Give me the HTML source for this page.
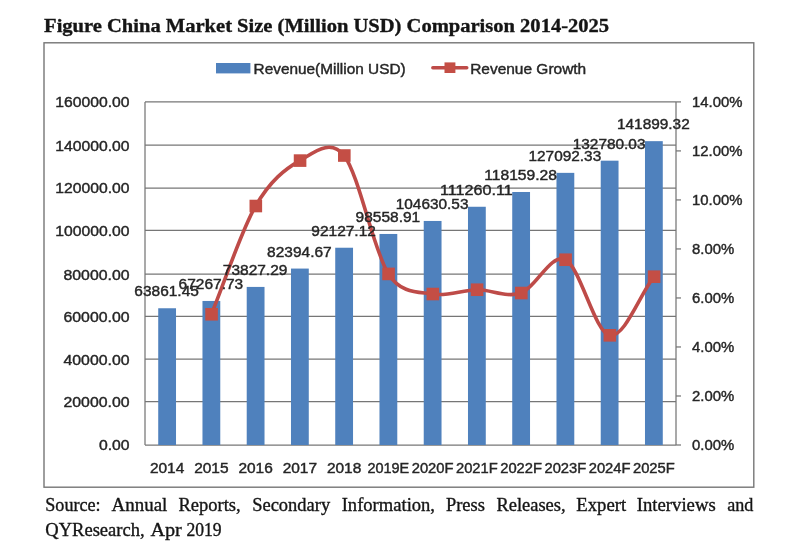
<!DOCTYPE html>
<html lang="en"><head><meta charset="utf-8"><title>Figure China Market Size (Million USD) Comparison 2014-2025</title>
<style>html,body{margin:0;padding:0;background:#fff}svg{display:block}.s{font-family:"Liberation Sans","DejaVu Sans",sans-serif;fill:#262626;stroke:#262626;stroke-width:.4px}.t{font-family:"Liberation Serif",serif;fill:#151515;stroke:#151515;stroke-width:.35px}</style></head><body>
<svg width="794" height="559" viewBox="0 0 794 559">
<rect width="794" height="559" fill="#fff"/>
<g>
<text class="t" x="44.1" y="31.8" font-size="19.4" font-weight="bold" textLength="565" lengthAdjust="spacingAndGlyphs">Figure China Market Size (Million USD) Comparison 2014-2025</text>
<rect x="44" y="42.8" width="709.8" height="444.4" fill="#fff" stroke="#767676" stroke-width="1.4"/>
<line x1="145.0" y1="445.00" x2="676.0" y2="445.00" stroke="#767676" stroke-width="1.25"/>
<line x1="145.0" y1="401.60" x2="676.0" y2="401.60" stroke="#767676" stroke-width="1.25"/>
<line x1="145.0" y1="359.10" x2="676.0" y2="359.10" stroke="#767676" stroke-width="1.25"/>
<line x1="145.0" y1="316.30" x2="676.0" y2="316.30" stroke="#767676" stroke-width="1.25"/>
<line x1="145.0" y1="274.20" x2="676.0" y2="274.20" stroke="#767676" stroke-width="1.25"/>
<line x1="145.0" y1="230.30" x2="676.0" y2="230.30" stroke="#767676" stroke-width="1.25"/>
<line x1="145.0" y1="188.00" x2="676.0" y2="188.00" stroke="#767676" stroke-width="1.25"/>
<line x1="145.0" y1="145.20" x2="676.0" y2="145.20" stroke="#767676" stroke-width="1.25"/>
<line x1="145.0" y1="101.90" x2="676.0" y2="101.90" stroke="#767676" stroke-width="1.25"/>
<rect x="158.22" y="308.26" width="17.80" height="136.74" fill="#4f81bd"/>
<rect x="202.47" y="300.96" width="17.80" height="144.04" fill="#4f81bd"/>
<rect x="246.72" y="286.92" width="17.80" height="158.08" fill="#4f81bd"/>
<rect x="290.98" y="268.57" width="17.80" height="176.43" fill="#4f81bd"/>
<rect x="335.23" y="247.73" width="17.80" height="197.27" fill="#4f81bd"/>
<rect x="379.48" y="233.96" width="17.80" height="211.04" fill="#4f81bd"/>
<rect x="423.73" y="220.96" width="17.80" height="224.04" fill="#4f81bd"/>
<rect x="467.98" y="206.76" width="17.80" height="238.24" fill="#4f81bd"/>
<rect x="512.23" y="191.99" width="17.80" height="253.01" fill="#4f81bd"/>
<rect x="556.48" y="172.86" width="17.80" height="272.14" fill="#4f81bd"/>
<rect x="600.73" y="160.68" width="17.80" height="284.32" fill="#4f81bd"/>
<rect x="644.98" y="141.16" width="17.80" height="303.84" fill="#4f81bd"/>
<line x1="145.0" y1="101.90" x2="145.0" y2="445.00" stroke="#767676" stroke-width="1.25"/>
<line x1="676.0" y1="101.90" x2="676.0" y2="445.00" stroke="#767676" stroke-width="1.25"/>
<line x1="676.0" y1="445.00" x2="681.0" y2="445.00" stroke="#767676" stroke-width="1.25"/>
<line x1="676.0" y1="395.99" x2="681.0" y2="395.99" stroke="#767676" stroke-width="1.25"/>
<line x1="676.0" y1="346.97" x2="681.0" y2="346.97" stroke="#767676" stroke-width="1.25"/>
<line x1="676.0" y1="297.96" x2="681.0" y2="297.96" stroke="#767676" stroke-width="1.25"/>
<line x1="676.0" y1="248.94" x2="681.0" y2="248.94" stroke="#767676" stroke-width="1.25"/>
<line x1="676.0" y1="199.93" x2="681.0" y2="199.93" stroke="#767676" stroke-width="1.25"/>
<line x1="676.0" y1="150.91" x2="681.0" y2="150.91" stroke="#767676" stroke-width="1.25"/>
<line x1="676.0" y1="101.90" x2="681.0" y2="101.90" stroke="#767676" stroke-width="1.25"/>
<path d="M211.38 314.28 C226.12 278.20 240.88 231.63 255.62 206.02 C270.38 180.41 285.12 169.02 299.88 160.60 C313.58 152.78 330.42 137.97 344.12 155.52 C358.88 174.41 373.62 250.82 388.38 273.91 C401.46 294.39 419.54 291.69 432.62 294.03 C447.38 296.66 462.12 289.88 476.88 289.72 C491.62 289.55 506.38 298.03 521.12 293.03 C535.88 288.03 550.62 252.67 565.38 259.72 C580.12 266.77 594.88 332.50 609.62 335.32 C624.38 338.15 639.12 296.23 653.88 276.69" fill="none" stroke="#be4b48" stroke-width="3.6" stroke-linecap="round" stroke-linejoin="round"/>
<rect x="205.27" y="307.98" width="12.6" height="12.6" fill="#c44e45"/>
<rect x="249.52" y="199.72" width="12.6" height="12.6" fill="#c44e45"/>
<rect x="293.77" y="154.30" width="12.6" height="12.6" fill="#c44e45"/>
<rect x="338.02" y="149.22" width="12.6" height="12.6" fill="#c44e45"/>
<rect x="382.27" y="267.61" width="12.6" height="12.6" fill="#c44e45"/>
<rect x="426.52" y="287.73" width="12.6" height="12.6" fill="#c44e45"/>
<rect x="470.77" y="283.42" width="12.6" height="12.6" fill="#c44e45"/>
<rect x="515.03" y="286.73" width="12.6" height="12.6" fill="#c44e45"/>
<rect x="559.28" y="253.42" width="12.6" height="12.6" fill="#c44e45"/>
<rect x="603.53" y="329.02" width="12.6" height="12.6" fill="#c44e45"/>
<rect x="647.78" y="270.39" width="12.6" height="12.6" fill="#c44e45"/>
<text class="s" x="166.62" y="296.26" font-size="13.8" text-anchor="middle" textLength="64.5" lengthAdjust="spacingAndGlyphs">63861.45</text>
<text class="s" x="210.88" y="288.96" font-size="13.8" text-anchor="middle" textLength="64.5" lengthAdjust="spacingAndGlyphs">67267.73</text>
<text class="s" x="255.12" y="274.92" font-size="13.8" text-anchor="middle" textLength="64.5" lengthAdjust="spacingAndGlyphs">73827.29</text>
<text class="s" x="299.38" y="256.57" font-size="13.8" text-anchor="middle" textLength="64.5" lengthAdjust="spacingAndGlyphs">82394.67</text>
<text class="s" x="343.62" y="235.73" font-size="13.8" text-anchor="middle" textLength="64.5" lengthAdjust="spacingAndGlyphs">92127.12</text>
<text class="s" x="387.88" y="221.96" font-size="13.8" text-anchor="middle" textLength="64.5" lengthAdjust="spacingAndGlyphs">98558.91</text>
<text class="s" x="432.12" y="208.96" font-size="13.8" text-anchor="middle" textLength="72.7" lengthAdjust="spacingAndGlyphs">104630.53</text>
<text class="s" x="476.38" y="194.76" font-size="13.8" text-anchor="middle" textLength="72.7" lengthAdjust="spacingAndGlyphs">111260.11</text>
<text class="s" x="520.62" y="179.99" font-size="13.8" text-anchor="middle" textLength="72.7" lengthAdjust="spacingAndGlyphs">118159.28</text>
<text class="s" x="564.88" y="160.86" font-size="13.8" text-anchor="middle" textLength="72.7" lengthAdjust="spacingAndGlyphs">127092.33</text>
<text class="s" x="609.12" y="148.68" font-size="13.8" text-anchor="middle" textLength="72.7" lengthAdjust="spacingAndGlyphs">132780.03</text>
<text class="s" x="653.38" y="129.16" font-size="13.8" text-anchor="middle" textLength="72.7" lengthAdjust="spacingAndGlyphs">141899.32</text>
<text class="s" x="129.5" y="450.40" font-size="13.8" text-anchor="end" textLength="30.6" lengthAdjust="spacingAndGlyphs">0.00</text>
<text class="s" x="129.5" y="407.00" font-size="13.8" text-anchor="end" textLength="66.0" lengthAdjust="spacingAndGlyphs">20000.00</text>
<text class="s" x="129.5" y="364.50" font-size="13.8" text-anchor="end" textLength="66.0" lengthAdjust="spacingAndGlyphs">40000.00</text>
<text class="s" x="129.5" y="321.70" font-size="13.8" text-anchor="end" textLength="66.0" lengthAdjust="spacingAndGlyphs">60000.00</text>
<text class="s" x="129.5" y="279.60" font-size="13.8" text-anchor="end" textLength="66.0" lengthAdjust="spacingAndGlyphs">80000.00</text>
<text class="s" x="129.5" y="235.70" font-size="13.8" text-anchor="end" textLength="74.2" lengthAdjust="spacingAndGlyphs">100000.00</text>
<text class="s" x="129.5" y="193.40" font-size="13.8" text-anchor="end" textLength="74.2" lengthAdjust="spacingAndGlyphs">120000.00</text>
<text class="s" x="129.5" y="150.60" font-size="13.8" text-anchor="end" textLength="74.2" lengthAdjust="spacingAndGlyphs">140000.00</text>
<text class="s" x="129.5" y="107.30" font-size="13.8" text-anchor="end" textLength="74.2" lengthAdjust="spacingAndGlyphs">160000.00</text>
<text class="s" x="692.0" y="450.40" font-size="13.8" textLength="42.2" lengthAdjust="spacingAndGlyphs">0.00%</text>
<text class="s" x="692.0" y="401.39" font-size="13.8" textLength="42.2" lengthAdjust="spacingAndGlyphs">2.00%</text>
<text class="s" x="692.0" y="352.37" font-size="13.8" textLength="42.2" lengthAdjust="spacingAndGlyphs">4.00%</text>
<text class="s" x="692.0" y="303.36" font-size="13.8" textLength="42.2" lengthAdjust="spacingAndGlyphs">6.00%</text>
<text class="s" x="692.0" y="254.34" font-size="13.8" textLength="42.2" lengthAdjust="spacingAndGlyphs">8.00%</text>
<text class="s" x="692.0" y="205.33" font-size="13.8" textLength="50.4" lengthAdjust="spacingAndGlyphs">10.00%</text>
<text class="s" x="692.0" y="156.31" font-size="13.8" textLength="50.4" lengthAdjust="spacingAndGlyphs">12.00%</text>
<text class="s" x="692.0" y="107.30" font-size="13.8" textLength="50.4" lengthAdjust="spacingAndGlyphs">14.00%</text>
<text class="s" x="167.12" y="472.7" font-size="13.8" text-anchor="middle" textLength="34.4" lengthAdjust="spacingAndGlyphs">2014</text>
<text class="s" x="211.38" y="472.7" font-size="13.8" text-anchor="middle" textLength="34.4" lengthAdjust="spacingAndGlyphs">2015</text>
<text class="s" x="255.62" y="472.7" font-size="13.8" text-anchor="middle" textLength="34.4" lengthAdjust="spacingAndGlyphs">2016</text>
<text class="s" x="299.88" y="472.7" font-size="13.8" text-anchor="middle" textLength="34.4" lengthAdjust="spacingAndGlyphs">2017</text>
<text class="s" x="344.12" y="472.7" font-size="13.8" text-anchor="middle" textLength="34.4" lengthAdjust="spacingAndGlyphs">2018</text>
<text class="s" x="388.38" y="472.7" font-size="13.8" text-anchor="middle" textLength="41.8" lengthAdjust="spacingAndGlyphs">2019E</text>
<text class="s" x="432.62" y="472.7" font-size="13.8" text-anchor="middle" textLength="41.8" lengthAdjust="spacingAndGlyphs">2020F</text>
<text class="s" x="476.88" y="472.7" font-size="13.8" text-anchor="middle" textLength="41.8" lengthAdjust="spacingAndGlyphs">2021F</text>
<text class="s" x="521.12" y="472.7" font-size="13.8" text-anchor="middle" textLength="41.8" lengthAdjust="spacingAndGlyphs">2022F</text>
<text class="s" x="565.38" y="472.7" font-size="13.8" text-anchor="middle" textLength="41.8" lengthAdjust="spacingAndGlyphs">2023F</text>
<text class="s" x="609.62" y="472.7" font-size="13.8" text-anchor="middle" textLength="41.8" lengthAdjust="spacingAndGlyphs">2024F</text>
<text class="s" x="653.88" y="472.7" font-size="13.8" text-anchor="middle" textLength="41.8" lengthAdjust="spacingAndGlyphs">2025F</text>
<rect x="216" y="63" width="34.4" height="10.4" fill="#4f81bd"/>
<text class="s" x="253.6" y="73.5" font-size="13.8" textLength="152" lengthAdjust="spacingAndGlyphs">Revenue(Million USD)</text>
<line x1="432.8" y1="67.7" x2="466.8" y2="67.7" stroke="#be4b48" stroke-width="3.4" stroke-linecap="round"/>
<rect x="444.5" y="62.4" width="10.9" height="10.6" fill="#c44e45"/>
<text class="s" x="470.2" y="73.5" font-size="13.8" textLength="116" lengthAdjust="spacingAndGlyphs">Revenue Growth</text>
<text class="t" x="45.3" y="510.6" font-size="18.3" textLength="55.3" lengthAdjust="spacingAndGlyphs">Source:</text>
<text class="t" x="111.6" y="510.6" font-size="18.3" textLength="55.7" lengthAdjust="spacingAndGlyphs">Annual</text>
<text class="t" x="178.5" y="510.6" font-size="18.3" textLength="62.2" lengthAdjust="spacingAndGlyphs">Reports,</text>
<text class="t" x="252.2" y="510.6" font-size="18.3" textLength="78.0" lengthAdjust="spacingAndGlyphs">Secondary</text>
<text class="t" x="341.7" y="510.6" font-size="18.3" textLength="93.3" lengthAdjust="spacingAndGlyphs">Information,</text>
<text class="t" x="445.9" y="510.6" font-size="18.3" textLength="39.0" lengthAdjust="spacingAndGlyphs">Press</text>
<text class="t" x="496.4" y="510.6" font-size="18.3" textLength="69.2" lengthAdjust="spacingAndGlyphs">Releases,</text>
<text class="t" x="576.3" y="510.6" font-size="18.3" textLength="49.9" lengthAdjust="spacingAndGlyphs">Expert</text>
<text class="t" x="636.8" y="510.6" font-size="18.3" textLength="78.9" lengthAdjust="spacingAndGlyphs">Interviews</text>
<text class="t" x="727.2" y="510.6" font-size="18.3" textLength="26.2" lengthAdjust="spacingAndGlyphs">and</text>
<text class="t" x="45.3" y="536.2" font-size="18.3" textLength="99.3" lengthAdjust="spacingAndGlyphs">QYResearch,</text>
<text class="t" x="150.4" y="536.2" font-size="18.3" textLength="31.4" lengthAdjust="spacingAndGlyphs">Apr</text>
<text class="t" x="186.4" y="536.2" font-size="18.3" textLength="35.2" lengthAdjust="spacingAndGlyphs">2019</text>
</g></svg></body></html>
